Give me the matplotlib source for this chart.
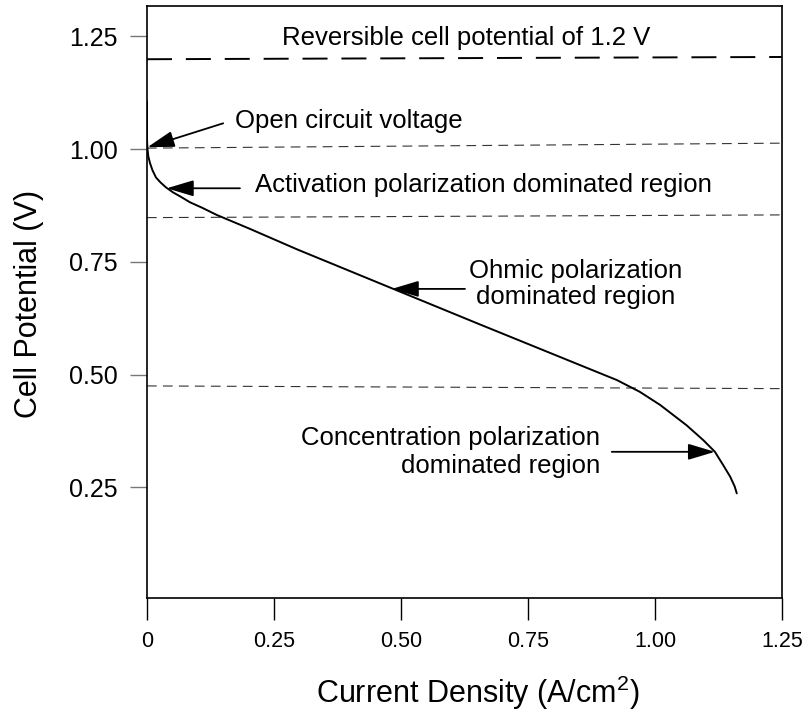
import matplotlib
matplotlib.use("Agg")
import matplotlib.pyplot as plt

plt.rcParams['font.family'] = ['Liberation Sans', 'DejaVu Sans']
plt.rcParams['mathtext.fontset'] = 'custom'
plt.rcParams['mathtext.rm'] = 'Liberation Sans'
plt.rcParams['mathtext.it'] = 'Liberation Sans:italic'
plt.rcParams['lines.scale_dashes'] = False

# Polarization curve (A/cm^2, V)
current = [0.0, 0.0, 0.001, 0.0026, 0.0059, 0.0108, 0.0177, 0.0266, 0.0374, 0.0512,
           0.0669, 0.0846, 0.1083, 0.1372, 0.1732, 0.2028, 0.2947, 0.485, 0.656,
           0.925, 0.970, 1.010, 1.062, 1.095, 1.118, 1.134, 1.148, 1.157, 1.161]
voltage = [1.105, 1.02, 1.001, 0.984, 0.969, 0.953, 0.937, 0.926, 0.915, 0.904,
           0.894, 0.882, 0.870, 0.854, 0.837, 0.823, 0.778, 0.690, 0.611,
           0.488, 0.462, 0.433, 0.388, 0.355, 0.329, 0.300, 0.274, 0.252, 0.237]

# Horizontal reference lines (value at left edge, value at right edge)
ref_left = [1.199, 1.002, 0.848, 0.475]
ref_right = [1.204, 1.013, 0.854, 0.469]

x_ticks = [0, 0.25, 0.5, 0.75, 1.0, 1.25]
x_tick_labels = ["0", "0.25", "0.50", "0.75", "1.00", "1.25"]
y_ticks = [0.25, 0.5, 0.75, 1.0, 1.25]
y_tick_labels = ["0.25", "0.50", "0.75", "1.00", "1.25"]

# annotations: (tip x, tip y, tail x, tail y)
arrows = [
    (0.001, 1.004, 0.150, 1.057),
    (0.039, 0.913, 0.183, 0.913),
    (0.482, 0.690, 0.626, 0.690),
    (1.118, 0.329, 0.915, 0.329),
]

fig = plt.figure(figsize=(8.04, 7.12), dpi=100)
ax = fig.add_axes([0.1828, 0.1601, 0.7898, 0.8315])

ax.set_xlim(0, 1.25)
ax.set_ylim(0.005, 1.317)

# reference lines
for i, (yl, yr) in enumerate(zip(ref_left, ref_right)):
    if i == 0:
        ax.plot([0, 1.25], [yl, yr], color='black', lw=1.4, dashes=(18, 10), zorder=2)
    else:
        ax.plot([0, 1.25], [yl, yr], color='#333333', lw=0.8, dashes=(7, 4.5), zorder=2)

ax.plot(current, voltage, color='black', lw=1.4, zorder=3,
        solid_joinstyle='round', solid_capstyle='round')

for (tx, ty, sx, sy) in arrows:
    ax.annotate('', xy=(tx, ty), xytext=(sx, sy),
                arrowprops=dict(arrowstyle='-|>,head_length=1.1,head_width=0.33',
                                mutation_scale=15, color='black', lw=1.3,
                                shrinkA=0, shrinkB=0))

fs = 18.5
ax.text(0.628, 1.246, "Reversible cell potential of 1.2 V", ha='center', va='center', fontsize=fs)
ax.text(0.173, 1.062, "Open circuit voltage", ha='left', va='center', fontsize=fs)
ax.text(0.213, 0.920, "Activation polarization dominated region", ha='left', va='center', fontsize=fs)
ax.text(0.844, 0.701, "Ohmic polarization\ndominated region", ha='center', va='center',
        multialignment='center', fontsize=fs, linespacing=1.15)
ax.text(0.892, 0.329, "Concentration polarization\ndominated region", ha='right', va='center',
        multialignment='right', fontsize=fs, linespacing=1.2)

ax.set_xticks(x_ticks)
ax.set_xticklabels(x_tick_labels, fontsize=15.5)
ax.set_yticks(y_ticks)
ax.set_yticklabels(y_tick_labels, fontsize=18)
ax.tick_params(axis='x', direction='out', length=16, width=1, color='black', pad=8)
ax.tick_params(axis='y', direction='out', length=12, width=1, color='#777777', pad=9)

for sp in ax.spines.values():
    sp.set_linewidth(1.2)
    sp.set_color('black')

ax.set_xlabel("Current Density (A/cm$^{2}$)", fontsize=22)
ax.xaxis.set_label_coords(0.521, -0.128)
ax.set_ylabel("Cell Potential (V)", fontsize=22)
ax.yaxis.set_label_coords(-0.162, 0.497)

fig.savefig("out.png", dpi=100)
